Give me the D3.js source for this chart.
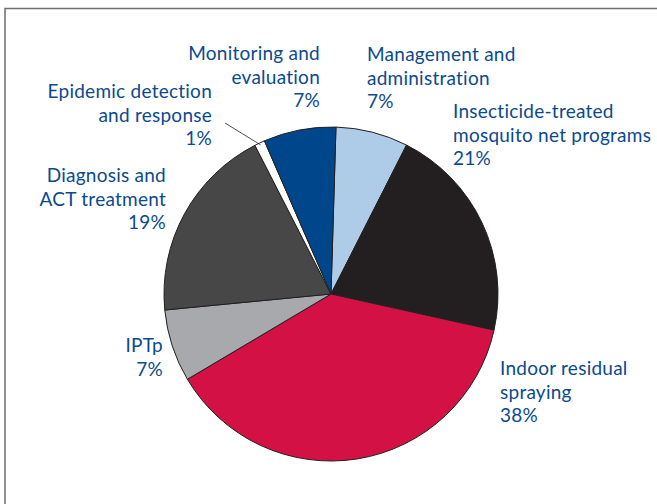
<!DOCTYPE html>
<html>
<head>
<meta charset="utf-8">
<script src="https://cdn.jsdelivr.net/npm/d3@7"></script>
<style>
  body { margin: 0; background: #fff; }
  svg { display: block; }
  .lbl { font-family: Lato, "Open Sans", sans-serif; font-size: 19px; letter-spacing: 0.25px; fill: #0b4a8e; }
</style>
</head>
<body>
<div id="chart"></div>
<script>
// data, clockwise from 12 o'clock
const categories = [
  "Management and administration",
  "Insecticide-treated mosquito net programs",
  "Indoor residual spraying",
  "IPTp",
  "Diagnosis and ACT treatment",
  "Epidemic detection and response",
  "Monitoring and evaluation"
];
const shares = [7, 21, 38, 7, 19, 1, 7];
const labelLines = [
  ["Management and", "administration"],
  ["Insecticide-treated", "mosquito net programs"],
  ["Indoor residual", "spraying"],
  ["IPTp"],
  ["Diagnosis and", "ACT treatment"],
  ["Epidemic detection", "and response"],
  ["Monitoring and", "evaluation"]
];
const colors = ["#aecbe8", "#231f20", "#d31145", "#a7a9ac", "#474748", "#ffffff", "#00468b"];

// label placement (x, first baseline, anchor)
const labelPos = [
  { x: 367, y: 61, anchor: "start" },
  { x: 453, y: 118, anchor: "start" },
  { x: 500, y: 375, anchor: "start" },
  { x: 163, y: 352, anchor: "end" },
  { x: 166, y: 182, anchor: "end" },
  { x: 212, y: 98, anchor: "end" },
  { x: 320, y: 60, anchor: "end" }
];

const W = 657, H = 504;
const cx = 331, cy = 294, r = 167;
const offset = 1.7 * Math.PI / 180;

const svg = d3.select("#chart").append("svg")
  .attr("width", W).attr("height", H);

// frame
svg.append("path")
  .attr("d", `M5,${H + 5} L5,8.5 L${W + 5},8.5`)
  .attr("fill", "none")
  .attr("stroke", "#6d6e70")
  .attr("stroke-width", 1.5);

const data = categories.map((c, i) => ({ name: c, value: shares[i], i }));

const pie = d3.pie()
  .value(d => d.value)
  .sort(null)
  .startAngle(offset)
  .endAngle(2 * Math.PI + offset);

const arc = d3.arc().innerRadius(0).outerRadius(r);

const g = svg.append("g").attr("transform", `translate(${cx},${cy})`);

g.selectAll("path.slice")
  .data(pie(data))
  .enter()
  .append("path")
  .attr("class", "slice")
  .attr("d", arc)
  .attr("fill", d => colors[d.data.i])
  .attr("stroke", "#231f20")
  .attr("stroke-width", 1)
  .attr("stroke-linejoin", "round");

// leader line for the 1% slice
const epi = pie(data)[5];
const mid = (epi.startAngle + epi.endAngle) / 2;
const px = Math.sin(mid) * (r - 2), py = -Math.cos(mid) * (r - 2);
g.append("line")
  .attr("x1", 225 - cx).attr("y1", 123 - cy)
  .attr("x2", px).attr("y2", py)
  .attr("stroke", "#231f20")
  .attr("stroke-width", 0.8);

// labels
const lineH = 23.7;
labelLines.forEach((lines, i) => {
  const p = labelPos[i];
  const t = svg.append("text")
    .attr("class", "lbl")
    .attr("text-anchor", p.anchor);
  lines.concat([shares[i] + "%"]).forEach((s, k) => {
    t.append("tspan")
      .attr("x", p.x)
      .attr("y", p.y + k * lineH)
      .text(s);
  });
});
</script>
</body>
</html>
